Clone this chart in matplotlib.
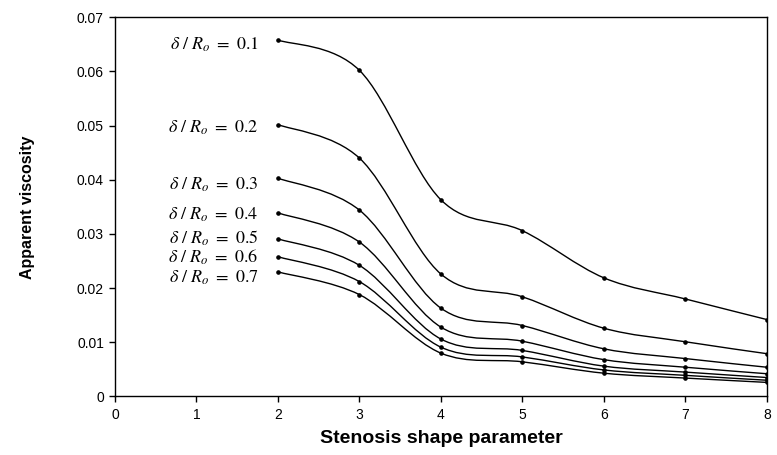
import matplotlib
matplotlib.use("Agg")
import matplotlib.pyplot as plt
from matplotlib.path import Path
from matplotlib.patches import PathPatch
from matplotlib.ticker import FuncFormatter, MultipleLocator
import numpy as np

x_vals = [2, 3, 4, 5, 6, 7, 8]
ratios = ["0.1", "0.2", "0.3", "0.4", "0.5", "0.6", "0.7"]
visc_01 = [0.0658, 0.0602, 0.0363, 0.0306, 0.0219, 0.0180, 0.0142]
visc_02 = [0.0502, 0.0440, 0.0226, 0.0184, 0.0126, 0.0101, 0.0079]
visc_03 = [0.0403, 0.0344, 0.0163, 0.0131, 0.0088, 0.0070, 0.0054]
visc_04 = [0.0339, 0.0285, 0.0128, 0.0102, 0.0068, 0.0054, 0.0042]
visc_05 = [0.0291, 0.0242, 0.0106, 0.0085, 0.0056, 0.0045, 0.0035]
visc_06 = [0.0258, 0.0212, 0.0091, 0.0073, 0.0049, 0.0039, 0.0030]
visc_07 = [0.0230, 0.0188, 0.0080, 0.0064, 0.0043, 0.0034, 0.0026]
series = [visc_01, visc_02, visc_03, visc_04, visc_05, visc_06, visc_07]

# label vertical offsets (points) to keep labels apart
label_dy = [-3.4, -2, -5, -1.5, 0.5, -0.5, -4]

fig = plt.figure(figsize=(7.77, 4.55), dpi=100)
ax = fig.add_axes([0.148, 0.1286, 0.839, 0.8334])


def smooth_path(xs, ys):
    pts = np.column_stack([xs, ys]).astype(float)
    n = len(pts)
    verts = [pts[0]]
    codes = [Path.MOVETO]
    for i in range(n - 1):
        p0 = pts[i - 1] if i > 0 else pts[i]
        p1 = pts[i]
        p2 = pts[i + 1]
        p3 = pts[i + 2] if i + 2 < n else pts[i + 1]
        c1 = p1 + (p2 - p0) / 6.0
        c2 = p2 - (p3 - p1) / 6.0
        verts += [c1, c2, p2]
        codes += [Path.CURVE4] * 3
    return Path(verts, codes)


for r, ys, dy in zip(ratios, series, label_dy):
    patch = PathPatch(smooth_path(x_vals, ys), facecolor="none",
                      edgecolor="black", lw=1.0)
    ax.add_patch(patch)
    ax.plot(x_vals, ys, linestyle="none", marker="o", ms=2.3,
            color="black")
    ax.annotate(r"$\delta\ /\ R_o\ =\ %s$" % r, xy=(x_vals[0], ys[0]),
                xytext=(-14, dy), textcoords="offset points",
                ha="right", va="center", fontsize=13,
                math_fontfamily="stix")

ax.set_xlim(0, 8)
ax.set_ylim(0, 0.07)
ax.xaxis.set_major_locator(MultipleLocator(1))
ax.yaxis.set_major_locator(MultipleLocator(0.01))
ax.yaxis.set_major_formatter(FuncFormatter(
    lambda v, p: "0" if abs(v) < 1e-9 else "%.2f" % v))

for s in ax.spines.values():
    s.set_linewidth(1.0)
ax.tick_params(direction="out", length=4, width=1, labelsize=10,
               pad=4, top=False, right=False)
for lab in ax.get_xticklabels() + ax.get_yticklabels():
    lab.set_fontfamily("Liberation Sans")

ax.set_xlabel("Stenosis shape parameter", fontsize=14, fontweight="bold",
              family="Liberation Sans", labelpad=6)
ax.set_ylabel("Apparent viscosity", fontsize=11.5, fontweight="bold",
              family="Liberation Sans", labelpad=30)

fig.savefig("out.png", dpi=100)
